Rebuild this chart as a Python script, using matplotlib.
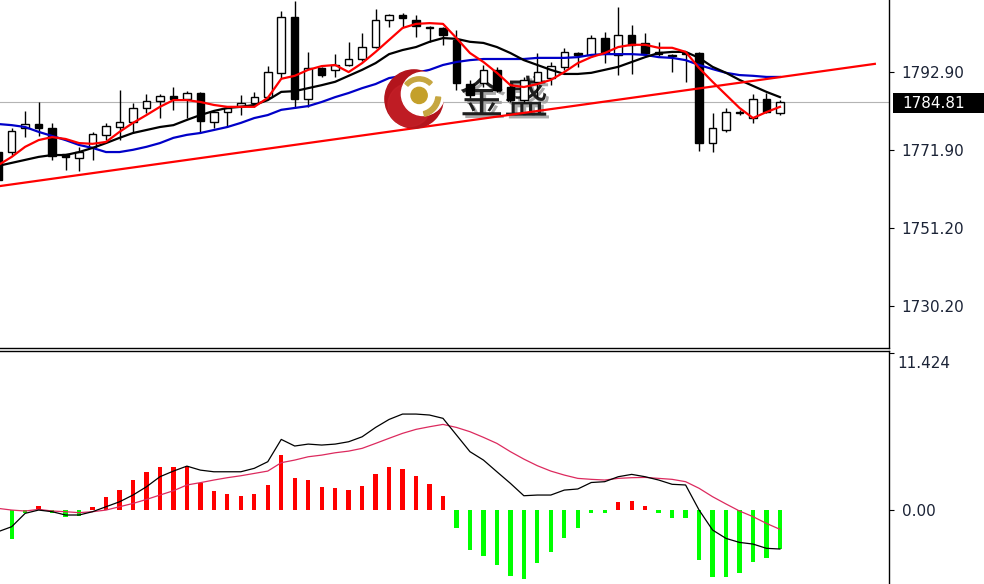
import numpy as np
import matplotlib
matplotlib.use('Agg')
import matplotlib.pyplot as plt
from matplotlib.patches import Circle, Wedge, Rectangle
import matplotlib.patheffects as pe

plt.rcParams['font.family'] = ['DejaVu Sans', 'Noto Sans CJK SC']

# ---------------- data ----------------
opens = [1771.4, 1771.4, 1777.8, 1778.9, 1777.8, 1770.9, 1769.8, 1772.8, 1776.0, 1778.1,
         1779.4, 1783.2, 1785.1, 1786.4, 1785.6, 1787.2, 1779.4, 1782.1, 1783.7, 1784.5,
         1786.1, 1792.6, 1807.5, 1785.6, 1793.9, 1793.4, 1794.7, 1796.3, 1799.5, 1806.7,
         1808.1, 1806.7, 1804.6, 1804.6, 1801.4, 1789.6, 1789.9, 1793.4, 1788.8, 1785.3,
         1790.2, 1791.2, 1794.2, 1797.9, 1797.4, 1801.9, 1797.4, 1802.7, 1800.6, 1798.2,
         1797.4, 1797.9, 1797.9, 1773.8, 1777.3, 1781.9, 1780.5, 1785.6, 1781.9]
highs = [1772.2, 1777.8, 1782.4, 1784.8, 1779.2, 1770.9, 1772.8, 1776.8, 1779.2, 1788.0,
         1784.5, 1786.9, 1786.9, 1788.8, 1787.7, 1787.5, 1782.4, 1783.5, 1786.7, 1787.5,
         1794.4, 1809.2, 1811.8, 1798.2, 1794.2, 1797.6, 1800.9, 1803.3, 1809.7, 1808.3,
         1808.6, 1808.1, 1805.0, 1804.9, 1804.1, 1790.7, 1794.7, 1794.2, 1789.3, 1791.5,
         1797.9, 1795.5, 1799.2, 1798.2, 1802.7, 1803.5, 1810.2, 1805.4, 1803.3, 1800.9,
         1797.6, 1798.4, 1798.2, 1781.9, 1783.2, 1782.7, 1786.9, 1787.2, 1785.3]
lows = [1762.6, 1770.6, 1775.4, 1775.7, 1769.3, 1766.6, 1766.3, 1769.3, 1774.6, 1774.6,
        1776.5, 1781.9, 1780.5, 1782.7, 1780.5, 1776.5, 1777.8, 1778.1, 1781.3, 1783.5,
        1785.9, 1791.2, 1783.2, 1783.5, 1791.5, 1791.5, 1794.5, 1795.8, 1799.2, 1804.9,
        1804.9, 1802.2, 1800.9, 1800.0, 1788.0, 1785.9, 1788.8, 1787.5, 1784.8, 1784.8,
        1786.1, 1789.3, 1793.4, 1794.2, 1796.8, 1795.2, 1792.0, 1792.3, 1797.4, 1797.1,
        1792.8, 1790.2, 1771.7, 1771.4, 1776.8, 1781.3, 1779.2, 1781.9, 1781.3]
closes = [1763.9, 1777.0, 1778.9, 1777.8, 1770.4, 1770.1, 1771.4, 1776.2, 1778.4, 1779.4,
          1783.2, 1785.1, 1786.4, 1785.6, 1787.2, 1779.7, 1782.1, 1783.2, 1784.5, 1786.1,
          1792.8, 1807.5, 1785.6, 1793.9, 1792.0, 1794.7, 1796.3, 1799.5, 1806.7, 1808.1,
          1807.3, 1805.1, 1804.9, 1802.7, 1789.9, 1786.7, 1793.4, 1788.0, 1785.3, 1790.7,
          1792.8, 1794.4, 1798.2, 1797.4, 1801.9, 1797.9, 1802.7, 1800.0, 1797.9, 1797.6,
          1797.2, 1797.6, 1773.8, 1777.8, 1782.1, 1782.1, 1785.6, 1782.1, 1784.81]

ma_red = [1767.9, 1770.1, 1772.8, 1774.6, 1775.4, 1774.9, 1773.8, 1773.6, 1774.1, 1776.8,
          1779.2, 1781.3, 1783.5, 1785.3, 1785.3, 1784.8, 1784.0, 1783.5, 1783.5, 1783.5,
          1785.9, 1791.0, 1791.8, 1793.4, 1794.4, 1794.7, 1792.8, 1795.2, 1798.2, 1801.4,
          1804.6, 1805.7, 1805.9, 1805.7, 1801.9, 1797.9, 1795.5, 1792.6, 1789.3, 1788.8,
          1789.6, 1790.7, 1792.8, 1795.2, 1796.8, 1797.9, 1799.5, 1800.1, 1800.1, 1799.3,
          1799.3, 1798.2, 1793.9, 1790.2, 1786.7, 1783.2, 1780.5, 1782.1, 1783.5]
ma_black = [1767.7, 1768.5, 1769.3, 1770.1, 1770.6, 1770.6, 1771.4, 1772.5, 1773.8, 1775.2,
            1776.5, 1777.3, 1778.1, 1778.6, 1780.0, 1781.3, 1782.4, 1783.2, 1783.5, 1784.0,
            1785.3, 1787.5, 1787.7, 1788.5, 1789.3, 1790.2, 1791.8, 1793.4, 1795.2, 1797.6,
            1798.7, 1799.5, 1800.9, 1801.9, 1801.7, 1800.9, 1800.6, 1799.5, 1797.9, 1796.0,
            1794.7, 1793.4, 1792.3, 1792.3, 1792.6, 1793.4, 1794.2, 1795.5, 1796.8, 1797.9,
            1798.2, 1798.2, 1796.6, 1794.2, 1792.6, 1790.7, 1789.1, 1787.5, 1786.1]
ma_blue = [1778.9, 1778.6, 1778.1, 1776.8, 1775.7, 1774.6, 1773.3, 1772.5, 1771.4, 1771.4,
           1772.0, 1772.8, 1773.8, 1775.2, 1776.0, 1776.5, 1777.3, 1778.1, 1779.2, 1780.5,
           1781.3, 1782.7, 1783.2, 1783.7, 1784.8, 1786.1, 1787.2, 1788.5, 1789.6, 1791.2,
           1791.8, 1792.6, 1793.4, 1794.7, 1795.5, 1796.0, 1796.3, 1796.3, 1796.3, 1796.3,
           1796.6, 1796.6, 1796.6, 1796.8, 1797.4, 1797.6, 1797.6, 1797.6, 1797.4, 1796.8,
           1796.6, 1796.0, 1794.7, 1793.6, 1792.6, 1792.0, 1791.8, 1791.5, 1791.5]

trend_x = [0.134, 65.04]
trend_y = [1762.3, 1795.0]
last_price = 1784.81

price_ticks = [1792.90, 1771.90, 1751.20, 1730.20]
price_labels = ['1792.90', '1771.90', '1751.20', '1730.20']
price_top_label = '1813.60'

macd_hist = [-3.85, -2.1, -0.25, 0.3, -0.2, -0.5, -0.4, 0.2, 0.97, 1.45,
             2.2, 2.76, 3.15, 3.1, 3.2, 1.94, 1.38, 1.14, 1.04, 1.14,
             1.84, 4.0, 2.35, 2.18, 1.67, 1.58, 1.45, 1.77, 2.6, 3.15,
             2.98, 2.47, 1.89, 1.04, -1.28, -2.9, -3.34, -4.0, -4.8, -4.99,
             -3.83, -3.05, -2.0, -1.28, -0.25, -0.25, 0.6, 0.68, 0.3, -0.25,
             -0.6, -0.6, -3.63, -4.89, -4.89, -4.55, -3.75, -3.5, -2.85]
macd_line = [-1.57, -1.21, -0.24, 0.0, -0.12, -0.36, -0.36, -0.12, 0.24, 0.6,
             1.09, 1.69, 2.42, 2.83, 3.19, 2.9, 2.78, 2.78, 2.78, 3.03,
             3.51, 5.13, 4.65, 4.79, 4.72, 4.79, 4.96, 5.32, 6.0, 6.58,
             6.97, 6.97, 6.9, 6.66, 5.45, 4.24, 3.63, 2.78, 1.94, 1.04,
             1.09, 1.09, 1.45, 1.53, 2.0, 2.06, 2.42, 2.59, 2.42, 2.18,
             1.87, 1.82, 0.0, -1.45, -2.06, -2.35, -2.47, -2.78, -2.83]
macd_signal = [0.12, 0.0, -0.07, 0.05, -0.07, -0.12, -0.19, -0.12, 0.0, 0.24,
               0.48, 0.77, 1.09, 1.4, 1.82, 1.99, 2.18, 2.35, 2.49, 2.66,
               2.83, 3.44, 3.63, 3.87, 3.99, 4.16, 4.28, 4.48, 4.84, 5.21,
               5.57, 5.86, 6.05, 6.22, 6.0, 5.69, 5.28, 4.84, 4.24, 3.7,
               3.22, 2.83, 2.54, 2.3, 2.23, 2.18, 2.3, 2.35, 2.37, 2.3,
               2.23, 2.06, 1.58, 0.97, 0.44, -0.07, -0.48, -0.97, -1.4]
macd_max_label = '11.424'
macd_max = 11.424
macd_zero_label = '0.00'
watermark = '金盛'

# ---------------- figure ----------------
W, H = 984, 584
fig = plt.figure(figsize=(W / 100, H / 100), dpi=100)
fig.patch.set_facecolor('white')

ax1 = fig.add_axes([0, 1 - 348 / H, 889 / W, 348 / H])
ax2 = fig.add_axes([0, 0, 889 / W, 233 / H])

x = np.arange(len(closes))
o = np.array(opens)
c = np.array(closes)
XLIM = (0.134, 66.09)

label_color = '#1b2336'
fs = 11

# price line
ax1.axhline(last_price, color='#b4b4b4', lw=0.8, zorder=1)

# watermark text
ax1.text(504 / 889, 1 - 100 / 348, watermark, transform=ax1.transAxes,
         ha='center', va='center', fontsize=32, family=['Noto Sans CJK SC'],
         color='#1e1e1e', zorder=2,
         path_effects=[pe.SimplePatchShadow(offset=(2, -2), shadow_rgbFace='#a0a0a0', alpha=0.9),
                       pe.Normal()])

# candles
ax1.vlines(x, lows, highs, color='black', lw=1.0, zorder=4)
faces = ['white' if cc >= oo else 'black' for oo, cc in zip(o, c)]
ax1.bar(x, np.abs(c - o), bottom=np.minimum(o, c), width=0.56, color=faces,
        edgecolor='black', linewidth=1.0, zorder=5)

# moving averages and trendline
ax1.plot(x, ma_blue, color='#0000c8', lw=1.6, zorder=6)
ax1.plot(x, ma_black, color='black', lw=1.6, zorder=6)
ax1.plot(x, ma_red, color='#ff0000', lw=1.6, zorder=7)
ax1.plot(trend_x, trend_y, color='#ff0000', lw=1.6, zorder=7)

ax1.set_xlim(*XLIM)
ax1.set_ylim(1718.96, 1812.09)
ax1.set_xticks([])
ax1.yaxis.tick_right()
ax1.set_yticks(price_ticks)
ax1.set_yticklabels(price_labels)
ax1.tick_params(axis='y', direction='out', length=3.4, width=0.8, pad=5.8,
                labelsize=fs, labelcolor=label_color, colors='black')
ax1.tick_params(axis='y', labelcolor=label_color)
for s in ['left', 'top']:
    ax1.spines[s].set_visible(False)
for s in ['right', 'bottom']:
    ax1.spines[s].set_color('black')
    ax1.spines[s].set_linewidth(1.0)

# top price label (cut off at the top edge, as in the reference)
fig.text(902 / W, 1 + 4 / H, price_top_label, fontsize=fs, color=label_color,
         ha='left', va='center')

# current price box
fig.patches.append(Rectangle((892.7 / W, 1 - 112.7 / H), (W - 892.7) / W, 19.4 / H,
                             transform=fig.transFigure, facecolor='black',
                             edgecolor='none', zorder=5))
fig.text(902 / W, 1 - 103 / H, f'{last_price:.2f}', fontsize=fs, color='white',
         ha='left', va='center', zorder=6)

# logo
lax = fig.add_axes([384 / W, 1 - 129 / H, 60 / W, 60 / H])
lax.set_xlim(-1, 1)
lax.set_ylim(-1, 1)
lax.axis('off')
lax.patch.set_alpha(0)
lax.add_patch(Circle((0, 0), 0.97, color='#b3141c'))
lax.add_patch(Circle((-0.15, -0.2), 0.72, color='#c8222a', alpha=0.6))
lax.add_patch(Circle((0.3, 0.17), 0.72, color='white'))
lax.add_patch(Circle((0.17, 0.12), 0.27, color='#c4a02a'))
lax.add_patch(Wedge((0.17, 0.12), 0.62, 45, 140, width=0.14, color='#c6a640'))
lax.add_patch(Wedge((0.17, 0.12), 0.72, -75, -5, width=0.16, color='#c6a640'))

# ---------------- MACD panel ----------------
hcol = ['#ff0000' if v > 0 else '#00ff00' for v in macd_hist]
ax2.bar(x, macd_hist, width=0.32, color=hcol, zorder=2)
ax2.plot(x, macd_signal, color='#dc2a5e', lw=0.9, zorder=3)
ax2.plot(x, macd_line, color='black', lw=0.9, zorder=4)
ax2.set_xlim(*XLIM)
ax2.set_ylim(-5.37, 11.55)
ax2.set_xticks([])
ax2.yaxis.tick_right()
ax2.set_yticks([macd_max, 0.0])
ax2.set_yticklabels(['', macd_zero_label])
ax2.tick_params(axis='y', direction='out', length=3.4, width=0.8, pad=5.8,
                labelsize=fs, labelcolor=label_color, colors='black')
ax2.tick_params(axis='y', labelcolor=label_color)
for s in ['left', 'bottom']:
    ax2.spines[s].set_visible(False)
for s in ['right', 'top']:
    ax2.spines[s].set_color('black')
    ax2.spines[s].set_linewidth(1.0)
fig.text(897 / W, 1 - 364 / H, macd_max_label, fontsize=fs, color=label_color,
         ha='left', va='center')

fig.savefig('out.png', dpi=100)
